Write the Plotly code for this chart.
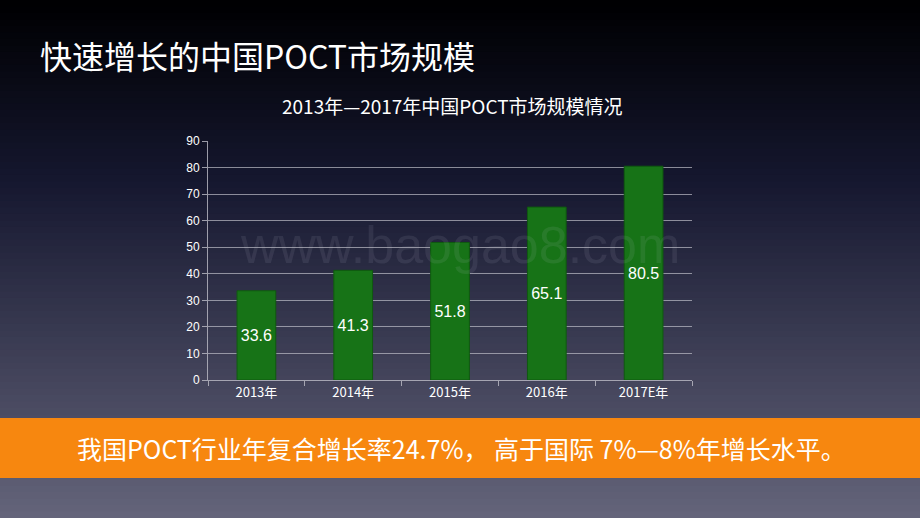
import plotly.graph_objects as go

categories = ["2013年", "2014年", "2015年", "2016年", "2017E年"]
values = [33.6, 41.3, 51.8, 65.1, 80.5]
labels = ["33.6", "41.3", "51.8", "65.1", "80.5"]

W, H = 920, 518
ML, MR, MT, MB = 208, 228, 141, 138
pa_h = H - MT - MB
pa_w = W - ML - MR
def py(ypx):
    return (H - MB - ypx) / pa_h
def px(xpx):
    return (xpx - ML) / pa_w

fig = go.Figure(go.Bar(
    x=categories, y=values, text=labels, textposition="inside",
    insidetextanchor="middle", width=0.4,
    marker=dict(color="#177317", line=dict(color="#0f5a0f", width=1)),
    textfont=dict(color="white", size=16, family="Liberation Sans"),
))

shapes = []
n = 80
def lerp(a, b, t):
    return int(a + (b - a) * t)
for i in range(n):
    t = i / (n - 1)
    ytop = H * i / n
    ybot = H * (i + 1) / n + 1
    if t < 0.35:
        u = t / 0.35
        c = (lerp(0, 22, u), lerp(0, 24, u), lerp(2, 48, u))
    else:
        u = (t - 0.35) / 0.65
        c = (lerp(22, 100, u), lerp(24, 100, u), lerp(48, 122, u))
    shapes.append(dict(type="rect", xref="paper", yref="paper", x0=px(-5), x1=px(W + 5),
                       y0=py(ybot), y1=py(ytop), fillcolor="rgb(%d,%d,%d)" % c,
                       line=dict(width=0), layer="below"))
shapes.append(dict(type="rect", xref="paper", yref="paper", x0=px(-5), x1=px(W + 5),
                   y0=py(478), y1=py(418), fillcolor="#F7870F", line=dict(width=0), layer="above"))

fig.update_layout(
    width=W, height=H,
    margin=dict(l=ML, r=MR, t=MT, b=MB),
    paper_bgcolor="#000000", plot_bgcolor="rgba(0,0,0,0)",
    showlegend=False,
    shapes=shapes,
    font=dict(family="Liberation Sans", color="white"),
    yaxis=dict(range=[0, 90], dtick=10, showgrid=True, gridcolor="rgba(190,190,200,0.7)",
               gridwidth=1, showline=True, linecolor="rgba(190,190,200,0.8)",
               ticks="outside", ticklen=5, tickcolor="rgba(190,190,200,0.8)",
               tickfont=dict(size=12, color="white"), zeroline=False, fixedrange=True),
    xaxis=dict(showline=True, linecolor="rgba(190,190,200,0.8)", ticks="outside",
               tickson="boundaries", ticklen=5, tickcolor="rgba(190,190,200,0.8)",
               tickfont=dict(size=13, color="white", family="Noto Sans CJK SC"),
               fixedrange=True),
)

def ann(text, x, y, size, color, family, xanchor="center"):
    fig.add_annotation(text=text, x=px(x), y=py(y), xref="paper", yref="paper",
                       xanchor=xanchor, yanchor="middle", showarrow=False,
                       font=dict(size=size, color=color, family=family))

ann("www.baogao8.com", 460, 245, 52, "rgba(200,200,220,0.10)", "Liberation Sans")
ann("快速增长的中国POCT市场规模", 38, 55, 32, "white", "Noto Sans CJK SC", "left")
ann("2013年—2017年中国POCT市场规模情况", 452, 105, 19, "white", "Noto Sans CJK SC")
ann("我国POCT行业年复合增长率24.7%， 高于国际 7%—8%年增长水平。", 461, 448, 25, "white", "Noto Sans CJK SC")

fig.write_html("out.html", config={"displayModeBar": False},
               post_script="document.body.style.margin='0';document.body.style.background='#000';")
